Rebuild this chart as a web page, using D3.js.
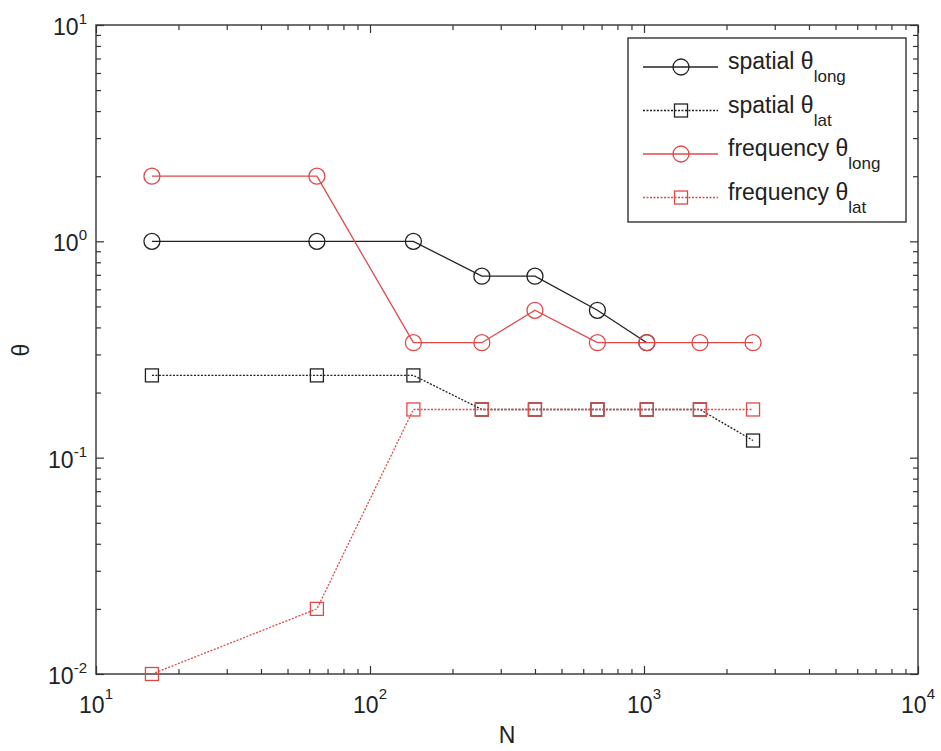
<!DOCTYPE html>
<html>
<head>
<meta charset="utf-8">
<script src="https://cdn.jsdelivr.net/npm/d3@7"></script>
<style>
  body { margin: 0; background: #fff; }
  text { font-family: "Liberation Sans", Arial, sans-serif; fill: #222; }
</style>
</head>
<body>
<svg width="941" height="751"></svg>
<script>
// data
var N = [16, 64, 144, 256, 400, 676, 1024, 1600, 2500];
var spatialLong = [1.0, 1.0, 1.0, 0.69, 0.69, 0.48, 0.34];
var spatialLat = [0.24, 0.24, 0.24, 0.167, 0.167, 0.167, 0.167, 0.167, 0.12];
var freqLong = [2.0, 2.0, 0.34, 0.34, 0.48, 0.34, 0.34, 0.34, 0.34];
var freqLat = [0.01, 0.02, 0.167, 0.167, 0.167, 0.167, 0.167, 0.167, 0.167];
var xTicks = [1, 2, 3, 4];   // exponents
var yTicks = [-2, -1, 0, 1];

var series = [
    { name: "spatial", sub: "long", values: spatialLong, color: "#222", dash: null, marker: "circle" },
    { name: "spatial", sub: "lat", values: spatialLat, color: "#222", dash: "2,1.5", marker: "square" },
    { name: "frequency", sub: "long", values: freqLong, color: "#e04848", dash: null, marker: "circle" },
    { name: "frequency", sub: "lat", values: freqLat, color: "#e04848", dash: "2,1.5", marker: "square" }
];

var svg = d3.select("svg"),
    pL = 96, pR = 918, pT = 25, pB = 674;

var x = d3.scaleLog().domain([10, 10000]).range([pL, pR]),
    y = d3.scaleLog().domain([0.01, 10]).range([pB, pT]);

// minor + major tick values
function logTicks(lo, hi) {
    var out = [];
    for (var e = lo; e < hi; e++) {
        for (var k = 1; k < 10; k++) out.push(k * Math.pow(10, e));
    }
    out.push(Math.pow(10, hi));
    return out;
}
var xAll = logTicks(1, 4), yAll = logTicks(-2, 1);
function isMajor(v) { return Math.abs(Math.log10(v) - Math.round(Math.log10(v))) < 1e-9; }

var axisColor = "#333";

function drawTicks(axisFn, scale, vals, tr, horiz) {
    var g = svg.append("g").attr("transform", tr);
    g.call(axisFn(scale).tickValues(vals).tickFormat("").tickSizeOuter(0).tickSizeInner(-5));
    g.selectAll(".tick line")
     .attr(horiz ? "y2" : "x2", function(d) {
         var len = isMajor(d) ? 8 : 5;
         return (axisFn === d3.axisBottom || axisFn === d3.axisRight) ? -len : len;
     });
    g.selectAll("path.domain").remove();
    g.selectAll("line").attr("stroke", axisColor).attr("stroke-width", 1.2);
}

drawTicks(d3.axisBottom, x, xAll, "translate(0," + pB + ")", true);
drawTicks(d3.axisTop, x, xAll, "translate(0," + pT + ")", true);
drawTicks(d3.axisLeft, y, yAll, "translate(" + pL + ",0)", false);
drawTicks(d3.axisRight, y, yAll, "translate(" + pR + ",0)", false);

svg.append("rect")
   .attr("x", pL).attr("y", pT)
   .attr("width", pR - pL).attr("height", pB - pT)
   .attr("fill", "none").attr("stroke", axisColor).attr("stroke-width", 1.4);

// tick labels 10^n
svg.selectAll(".xlab").data(xTicks).enter().append("text")
   .attr("class", "xlab")
   .attr("x", function(d) { return x(Math.pow(10, d)); })
   .attr("y", pB + 39)
   .attr("text-anchor", "middle")
   .attr("font-size", "23px")
   .each(function(d) {
       var t = d3.select(this);
       t.append("tspan").text("10");
       t.append("tspan").attr("font-size", "15px").attr("dy", -14).text(d);
   });

svg.selectAll(".ylab").data(yTicks).enter().append("text")
   .attr("class", "ylab")
   .attr("x", 87)
   .attr("y", function(d) { return y(Math.pow(10, d)) + 10; })
   .attr("text-anchor", "end")
   .attr("font-size", "23px")
   .each(function(d) {
       var t = d3.select(this);
       t.append("tspan").text("10");
       t.append("tspan").attr("font-size", "15px").attr("dy", -11).text(d);
   });

svg.append("text")
   .attr("x", (pL + pR) / 2).attr("y", 743)
   .attr("text-anchor", "middle").attr("font-size", "23px")
   .text("N");

svg.append("text")
   .attr("transform", "translate(29,350) rotate(-90)")
   .attr("text-anchor", "middle").attr("font-size", "23px")
   .text("θ");

// series
function drawMarker(g, type, cx, cy, color) {
    if (type === "circle") {
        g.append("circle").attr("cx", cx).attr("cy", cy).attr("r", 8)
         .attr("fill", "none").attr("stroke", color).attr("stroke-width", 1.3);
    } else {
        g.append("rect").attr("x", cx - 6.5).attr("y", cy - 6.5)
         .attr("width", 13).attr("height", 13)
         .attr("fill", "none").attr("stroke", color).attr("stroke-width", 1.3);
    }
}

var line = d3.line()
    .x(function(d, i) { return x(N[i]); })
    .y(function(d) { return y(d); });

series.forEach(function(s) {
    var g = svg.append("g");
    g.append("path")
     .attr("d", line(s.values))
     .attr("fill", "none")
     .attr("stroke", s.color)
     .attr("stroke-width", 1.3)
     .attr("stroke-dasharray", s.dash);
    s.values.forEach(function(v, i) {
        drawMarker(g, s.marker, x(N[i]), y(v), s.color);
    });
});

// legend
var lg = svg.append("g");
lg.append("rect")
  .attr("x", 628).attr("y", 38).attr("width", 278).attr("height", 184)
  .attr("fill", "#fff").attr("stroke", axisColor).attr("stroke-width", 1.4);

series.forEach(function(s, i) {
    var ly = 67 + i * 43.5;
    lg.append("line")
      .attr("x1", 643).attr("x2", 718).attr("y1", ly).attr("y2", ly)
      .attr("stroke", s.color).attr("stroke-width", 1.3)
      .attr("stroke-dasharray", s.dash);
    drawMarker(lg, s.marker, 681, ly, s.color);
    var t = lg.append("text")
      .attr("x", 728).attr("y", ly + 2)
      .attr("font-size", "23px");
    t.append("tspan").text(s.name + " θ");
    t.append("tspan").attr("font-size", "17px").attr("dy", 13).text(s.sub);
});
</script>
</body>
</html>
